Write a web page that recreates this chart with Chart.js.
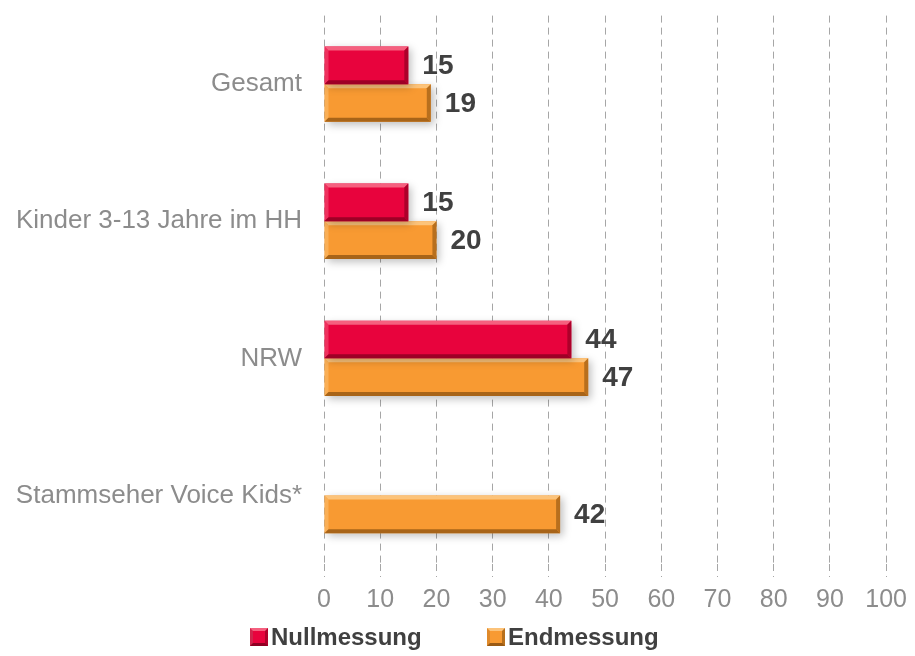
<!DOCTYPE html>
<html>
<head>
<meta charset="utf-8">
<script src="https://cdn.jsdelivr.net/npm/chart.js@4"></script>
<style>
  body { margin: 0; background: #fff; }
  #wrap { position: relative; width: 915px; height: 656px; }
  #legend { position: absolute; left: 0; top: 622px; width: 915px; height: 32px;
            font: bold 24px "Liberation Sans", Arial, sans-serif; color: #404040; }
  .item { position: absolute; top: 0; line-height: 30px; white-space: nowrap; }
  .box { display: inline-block; width: 18px; height: 18px; vertical-align: -1px; margin-right: 3px;
         box-sizing: border-box; border: 3px solid; }
  .red { background: #e8033d; border-color: #f5607f #b0002b #8e0022 #d0244c; }
  .orange { background: #f89a32; border-color: #fcc37a #b8701c #9a5a14 #e08a2a; }
</style>
</head>
<body>
<div id="wrap">
  <canvas id="chart" width="915" height="656"></canvas>
  <div id="legend">
    <span class="item" style="left:250px"><span class="box red"></span>Nullmessung</span>
    <span class="item" style="left:487px"><span class="box orange"></span>Endmessung</span>
  </div>
</div>
<script>
const categories = ['Gesamt', 'Kinder 3-13 Jahre im HH', 'NRW', 'Stammseher Voice Kids*'];
const nullmessung = [15, 15, 44, null];
const endmessung = [19, 20, 47, 42];
const xTicks = [0, 10, 20, 30, 40, 50, 60, 70, 80, 90, 100];

const colors = {
    red: { fill: '#e8033d', light: '#f5607f', dark: '#9e0026' },
    orange: { fill: '#f89a32', light: '#fcc37a', dark: '#a86418' }
};

// bevel + shadow look of the bars
const bevelBars = {
    id: 'bevelBars',
    beforeDatasetDraw(chart) {
        const ctx = chart.ctx;
        ctx.save();
        ctx.shadowColor = 'rgba(0,0,0,0.25)';
        ctx.shadowBlur = 8;
        ctx.shadowOffsetX = 3;
        ctx.shadowOffsetY = 3;
    },
    afterDatasetDraw(chart, args) {
        const ctx = chart.ctx;
        ctx.restore();
        const c = args.index === 0 ? colors.red : colors.orange;
        const b = 4;
        args.meta.data.forEach((bar, i) => {
            if (chart.data.datasets[args.index].data[i] == null) return;
            const p = bar.getProps(['x', 'y', 'base', 'height'], true);
            const x0 = p.base, x1 = p.x, y0 = p.y - p.height / 2, y1 = p.y + p.height / 2;
            ctx.save();
            ctx.fillStyle = c.light;
            ctx.beginPath();
            ctx.moveTo(x0, y0); ctx.lineTo(x1, y0); ctx.lineTo(x1 - b, y0 + b); ctx.lineTo(x0 + b, y0 + b);
            ctx.closePath(); ctx.fill();
            ctx.globalAlpha = 0.5;
            ctx.beginPath();
            ctx.moveTo(x0, y0); ctx.lineTo(x0 + b, y0 + b); ctx.lineTo(x0 + b, y1 - b); ctx.lineTo(x0, y1);
            ctx.closePath(); ctx.fill();
            ctx.globalAlpha = 1;
            ctx.fillStyle = c.dark;
            ctx.beginPath();
            ctx.moveTo(x0, y1); ctx.lineTo(x1, y1); ctx.lineTo(x1 - b, y1 - b); ctx.lineTo(x0 + b, y1 - b);
            ctx.closePath(); ctx.fill();
            ctx.globalAlpha = 0.8;
            ctx.beginPath();
            ctx.moveTo(x1, y0); ctx.lineTo(x1, y1); ctx.lineTo(x1 - b, y1 - b); ctx.lineTo(x1 - b, y0 + b);
            ctx.closePath(); ctx.fill();
            ctx.restore();
        });
    }
};

const valueLabels = {
    id: 'valueLabels',
    afterDatasetsDraw(chart) {
        const ctx = chart.ctx;
        ctx.save();
        ctx.font = 'bold 28px "Liberation Sans", Arial, sans-serif';
        ctx.fillStyle = '#404040';
        ctx.textBaseline = 'middle';
        ctx.textAlign = 'left';
        chart.data.datasets.forEach((ds, di) => {
            chart.getDatasetMeta(di).data.forEach((bar, i) => {
                if (ds.data[i] == null) return;
                ctx.fillText(ds.data[i], bar.x + 14, bar.y + 1);
            });
        });
        ctx.restore();
    }
};

new Chart(document.getElementById('chart'), {
    type: 'bar',
    data: {
        labels: categories,
        datasets: [
            { label: 'Nullmessung', data: nullmessung, backgroundColor: colors.red.fill },
            { label: 'Endmessung', data: endmessung, backgroundColor: colors.orange.fill }
        ]
    },
    options: {
        indexAxis: 'y',
        responsive: false,
        animation: false,
        layout: { padding: { top: 0, right: 28, left: 0, bottom: 33 } },
        datasets: { bar: { categoryPercentage: 0.55, barPercentage: 1 } },
        scales: {
            x: {
                min: 0, max: 100,
                afterBuildTicks(scale) { scale.ticks = xTicks.map(v => ({ value: v })); },
                border: { display: false, dash: [7, 5] },
                grid: {
                    color: '#a6a6a6',
                    tickBorderDash: [7, 5],
                    tickColor: '#a6a6a6',
                    tickLength: 13,
                    lineWidth: 1
                },
                ticks: {
                    color: '#8c8c8c',
                    padding: 8,
                    font: { family: '"Liberation Sans", Arial, sans-serif', size: 25 }
                }
            },
            y: {
                border: { display: false },
                grid: { display: true, drawOnChartArea: false, color: 'transparent', tickLength: 22 },
                afterFit(scale) { scale.width = 324; },
                ticks: {
                    color: '#8c8c8c',
                    padding: 0,
                    font: { family: '"Liberation Sans", Arial, sans-serif', size: 26 }
                }
            }
        },
        plugins: {
            tooltip: { enabled: false },
            legend: { display: false }
        }
    },
    plugins: [bevelBars, valueLabels]
});
</script>
</body>
</html>
